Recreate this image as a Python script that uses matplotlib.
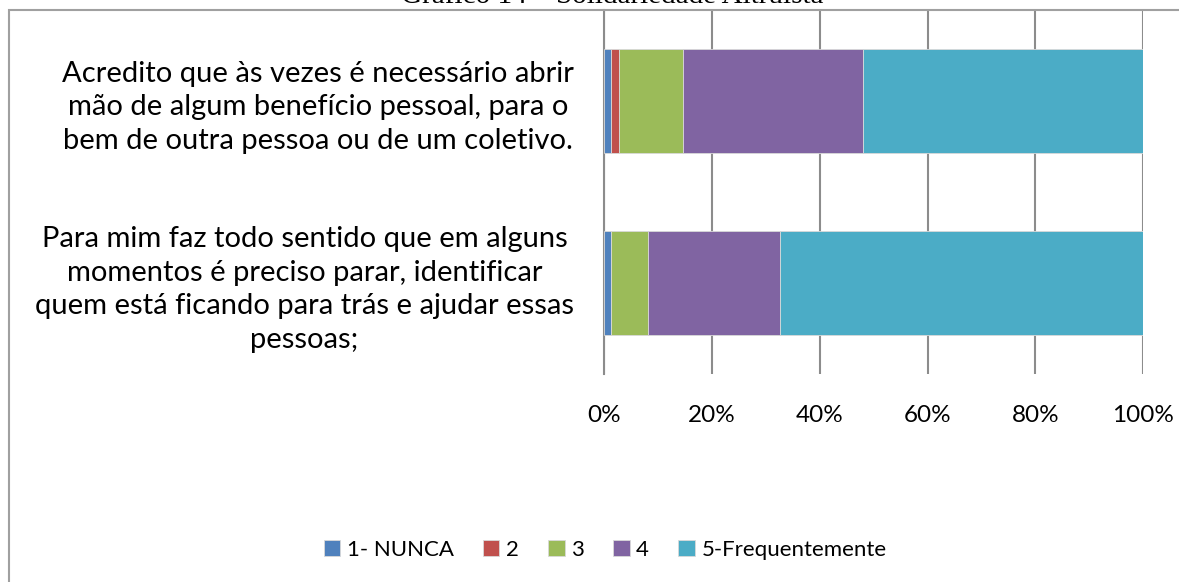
import matplotlib.pyplot as plt
import numpy as np
from matplotlib.patches import Rectangle

# data (share of answers, %) - bottom row first, as drawn
questions = [
    "Para mim faz todo sentido que em alguns\nmomentos é preciso parar, identificar\nquem está ficando para trás e ajudar essas\npessoas;",
    "Acredito que às vezes é necessário abrir\nmão de algum benefício pessoal, para o\nbem de outra pessoa ou de um coletivo.",
]
levels = ["1- NUNCA", "2", "3", "4", "5-Frequentemente"]
nunca = [1.2, 1.2]
dois = [0.0, 1.4]
tres = [6.9, 11.9]
quatro = [24.4, 33.5]
frequente = [67.5, 52.0]
colors = ["#4F81BD", "#C0504D", "#9BBB59", "#8064A2", "#4BACC6"]

plt.rcParams["font.family"] = ["Lato", "DejaVu Sans"]

fig = plt.figure(figsize=(11.79, 5.82), dpi=100)
ax = fig.add_axes([604.5 / 1179, 1 - 374 / 582, 538.5 / 1179, 364 / 582])

series = [nunca, dois, tres, quatro, frequente]
y = np.arange(len(questions))
left = np.zeros(len(questions))
for vals, lab, col in zip(series, levels, colors):
    ax.barh(y, vals, left=left, height=0.57, color=col, label=lab,
            edgecolor="#d9d9d9", linewidth=0.6, zorder=3)
    left += np.array(vals)

ax.set_xlim(0, 100)
ax.set_ylim(-0.5, 1.5)
ax.set_xticks(np.arange(0, 101, 20))
ax.set_xticklabels([f"{v}%" for v in range(0, 101, 20)], fontsize=17.5)
ax.set_yticks(y)
ax.set_yticklabels(questions, fontsize=21, multialignment="center",
                   linespacing=1.38)
ax.tick_params(axis="both", length=0)
ax.tick_params(axis="x", pad=22)
ax.tick_params(axis="y", pad=22)
ax.grid(axis="x", color="#8c8c8c", linewidth=1.5, zorder=0)
for s in ["top", "right", "bottom"]:
    ax.spines[s].set_visible(False)
ax.spines["left"].set_color("#8c8c8c")
ax.spines["left"].set_linewidth(1.5)

fig.legend(*ax.get_legend_handles_labels(), loc="center", ncol=5,
           bbox_to_anchor=(605 / 1179, 1 - 550 / 582), frameon=False,
           fontsize=16, handlelength=0.75, handleheight=0.75,
           handletextpad=0.3, columnspacing=1.3)

# outer chart border
fig.patches.append(Rectangle((9 / 1179, -0.05), 1.2, 1 - 10 / 582 + 0.05,
                             transform=fig.transFigure, fill=False,
                             edgecolor="#a0a0a0", linewidth=1.5))

fig.text(612 / 1179, 1 - 3 / 582, "Gráfico 14 – Solidariedade Altruísta",
         ha="center", va="baseline", fontsize=21, family="Liberation Serif")

fig.savefig("out.png", dpi=100)
